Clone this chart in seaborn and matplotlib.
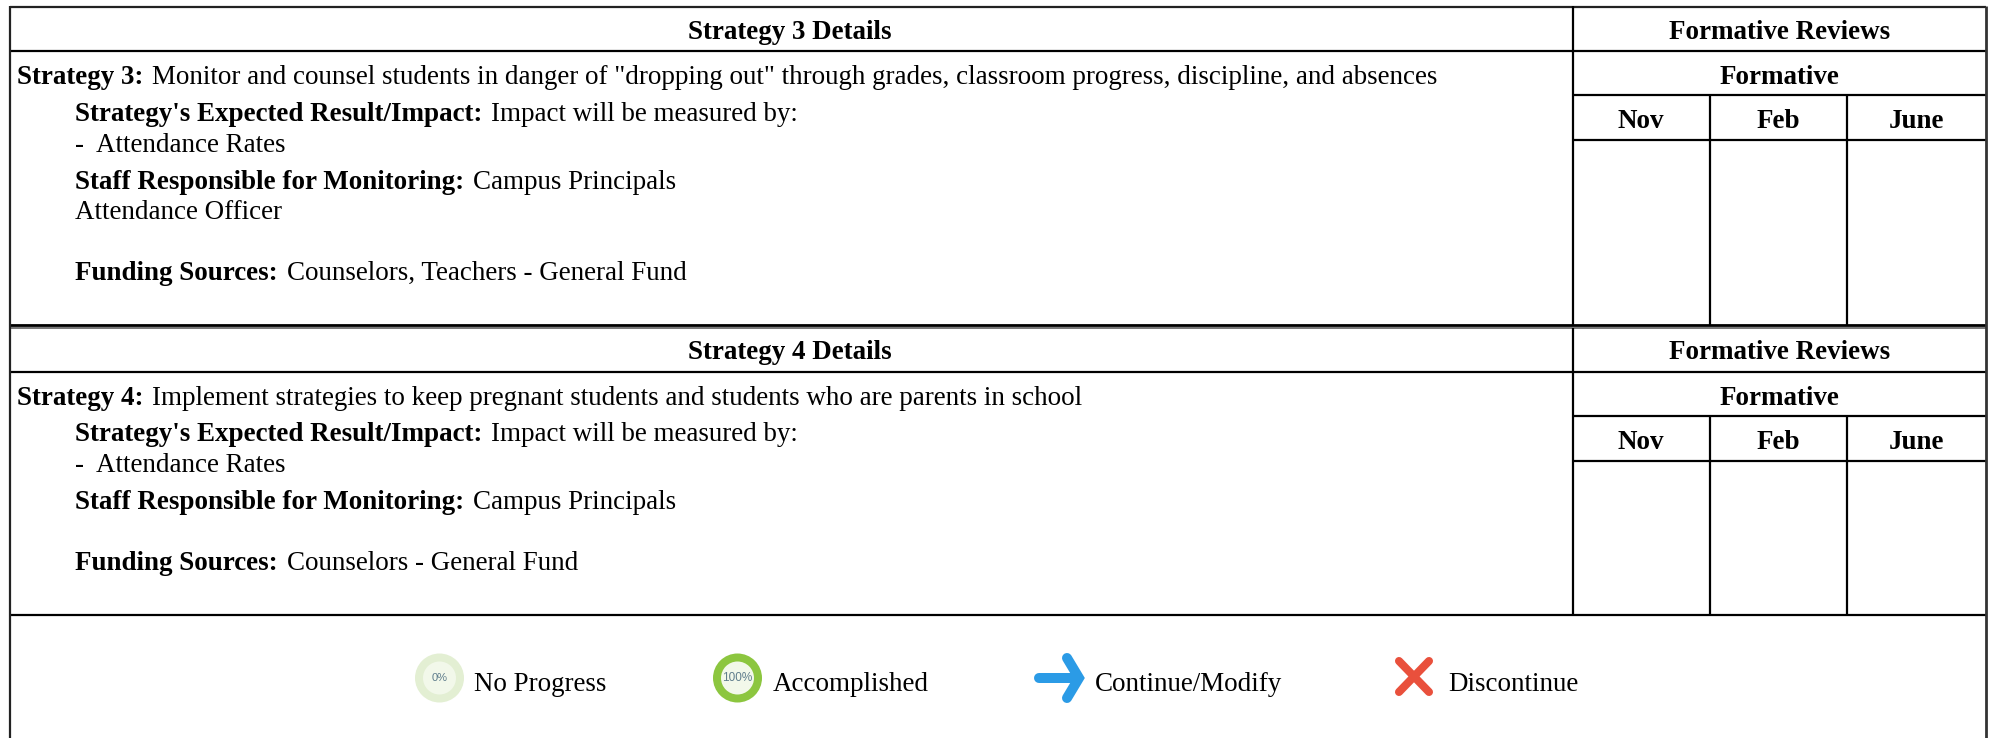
import matplotlib
matplotlib.use("Agg")
import matplotlib.pyplot as plt
from matplotlib.patches import Ellipse
import seaborn as sns

sns.set_theme(style="white")
plt.rcParams["font.family"] = ["Liberation Serif", "DejaVu Serif"]

# ---- content ----
section_titles = ["Strategy 3 Details", "Strategy 4 Details"]
review_title = "Formative Reviews"
review_sub = "Formative"
months = ["Nov", "Feb", "June"]
strategy_rows_3 = [
    ("Strategy 3:", ' Monitor and counsel students in danger of "dropping out" through grades, classroom progress, discipline, and absences', 0),
    ("Strategy's Expected Result/Impact:", " Impact will be measured by:", 1),
    ("", "-  Attendance Rates", 1),
    ("Staff Responsible for Monitoring:", " Campus Principals", 1),
    ("", "Attendance Officer", 1),
    ("Funding Sources:", " Counselors, Teachers - General Fund", 1),
]
strategy_rows_4 = [
    ("Strategy 4:", " Implement strategies to keep pregnant students and students who are parents in school", 0),
    ("Strategy's Expected Result/Impact:", " Impact will be measured by:", 1),
    ("", "-  Attendance Rates", 1),
    ("Staff Responsible for Monitoring:", " Campus Principals", 1),
    ("Funding Sources:", " Counselors - General Fund", 1),
]
legend_labels = ["No Progress", "Accomplished", "Continue/Modify", "Discontinue"]

# ---- layout (pixels) ----
W, H = 1995, 738
X_L, X_R, X_DIV = 10, 1986, 1573
X_COLS = [1710, 1847]
X_MONTH = [1641, 1778, 1916]
X_TEXT = [17, 75]
BASE_3 = [84, 121, 152, 189, 219, 280]
BASE_4 = [405, 441, 472, 509, 570]
FS = 19.45

fig = plt.figure(figsize=(W / 100, H / 100), dpi=100, facecolor="white")
ax = fig.add_axes([0, 0, 1, 1])
ax.set_xlim(0, W)
ax.set_ylim(H, 0)
ax.axis("off")
sns.despine(ax=ax, left=True, bottom=True)

LW = 1.6
def hl(y, x0=X_L, x1=X_R, c="black", lw=LW):
    ax.plot([x0, x1], [y, y], color=c, lw=lw, solid_capstyle="butt")
def vl(x, y0, y1, c="black", lw=LW):
    ax.plot([x, x], [y0, y1], color=c, lw=lw, solid_capstyle="butt")

# grid rules
hl(6.5, c="#222222")
hl(51)
hl(325, lw=2)
hl(328, c="#777777", lw=1.4)
hl(371.5)
hl(615)
hl(95, X_DIV, X_R)
hl(140, X_DIV, X_R)
hl(416, X_DIV, X_R)
hl(461, X_DIV, X_R)
vl(X_L, 6, 738, c="#222222")
vl(X_R, 6, 738, c="#333333", lw=2)
vl(X_DIV, 6, 325)
vl(X_DIV, 328, 615)
for x in X_COLS:
    vl(x, 95, 325)
    vl(x, 416, 615)

# headers
def ctext(x, y, s):
    ax.text(x, y, s, ha="center", va="baseline", fontsize=FS, fontweight="bold", color="black")

ctext(790, 39, section_titles[0])
ctext(790, 359, section_titles[1])
X_MID = (X_DIV + X_R) / 2
for y, s in [(39, review_title), (84, review_sub), (359, review_title), (405, review_sub)]:
    ctext(X_MID, y, s)
for x, m in zip(X_MONTH, months):
    ctext(x, 128, m)
    ctext(x, 449, m)

# body text: bold lead followed by regular run
fig.canvas.draw()
rend = fig.canvas.get_renderer()
def rows(rows_, bases):
    for (b, r, ind), y in zip(rows_, bases):
        x = X_TEXT[ind]
        if b:
            t = ax.text(x, y, b, ha="left", va="baseline", fontsize=FS, fontweight="bold", color="black")
            x = t.get_window_extent(rend).x1 + 9
        ax.text(x, y, r.strip(), ha="left", va="baseline", fontsize=FS, color="black")
rows(strategy_rows_3, BASE_3)
rows(strategy_rows_4, BASE_4)

# legend
LY = 678
for x, c in [(439.5, "#e3efd3"), (737.5, "#8cc63f")]:
    ax.add_patch(Ellipse((x, LY), 49, 49, fc=c, ec="none"))
    ax.add_patch(Ellipse((x, LY), 33, 33, fc="#f2f8ea", ec="none"))
ax.text(439.5, LY, "0%", ha="center", va="center", fontsize=8, color="#5f7d8c", family="Liberation Sans")
ax.text(737.5, LY, "100%", ha="center", va="center", fontsize=8.5, color="#5f7d8c", family="Liberation Sans")

blue = "#2b9be6"
ax.plot([1039, 1077], [LY, LY], color=blue, lw=7.2, solid_capstyle="round")
ax.plot([1067, 1079, 1067], [658, LY, 698], color=blue, lw=7.2, solid_capstyle="round", solid_joinstyle="miter")
red = "#e9503c"
ax.plot([1399, 1429], [661, 692], color=red, lw=5.8, solid_capstyle="round")
ax.plot([1429, 1399], [661, 692], color=red, lw=5.8, solid_capstyle="round")

for x, s in zip([474.5, 772.5, 1094.5, 1448], legend_labels):
    ax.text(x, 691, s, ha="left", va="baseline", fontsize=FS, color="black")

fig.savefig("out.png", dpi=100, facecolor="white")
